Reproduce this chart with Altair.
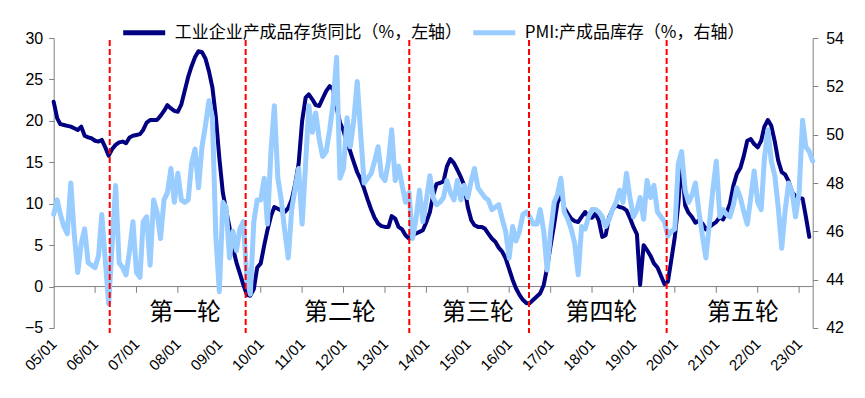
import altair as alt
import pandas as pd

dark_name = "工业企业产成品存货同比（%，左轴）"
light_name = "PMI:产成品库存（%，右轴）"

start_month = "2005-01-01"

inventory_yoy = [
    22.3, 20.3, 19.6, 19.5, 19.4, 19.3, 19.1, 18.9, 19.3, 18.2, 18.0, 17.9,  # 2005
    17.6, 17.5, 17.7, 16.8, 15.8, 16.6, 17.1, 17.4, 17.5, 17.3, 18.0, 18.2,  # 2006
    18.3, 18.4, 18.9, 19.8, 20.1, 20.1, 20.1, 20.6, 21.2, 21.9, 21.5, 21.2,  # 2007
    21.1, 22.0, 23.6, 25.3, 26.6, 27.7, 28.4, 28.3, 27.5, 26.0, 24.0, 20.5,  # 2008
    15.5, 11.3, 9.3, 7.1, 4.6, 2.9, 1.6, 0.2, -1.0, -1.1, -0.3, 2.3,         # 2009
    2.8, 5.0, 6.8, 8.5, 9.6, 9.4, 9.2, 9.0, 9.5, 10.5, 12.4, 14.8,           # 2010
    20.0, 22.8, 23.2, 22.6, 21.9, 21.8, 22.7, 23.6, 24.2, 23.8, 21.6, 19.8,  # 2011
    18.8, 17.3, 16.3, 15.0, 13.8, 12.9, 11.8, 10.5, 9.3, 8.3, 7.6, 7.3,      # 2012
    7.2, 7.2, 8.5, 8.2, 7.2, 6.9, 6.2, 5.8, 6.2, 6.4, 6.6, 6.8,              # 2013
    7.8, 9.0, 11.0, 12.4, 12.5, 12.7, 14.5, 15.4, 14.9, 14.1, 13.2, 12.2,    # 2014
    9.6, 8.0, 7.4, 7.2, 7.2, 7.0, 6.4, 5.8, 5.4, 4.7, 4.2, 3.4,              # 2015
    2.1, 0.8, -0.2, -1.0, -1.6, -2.0, -2.0, -1.6, -1.2, -0.8, 0.2, 2.3,      # 2016
    5.0, 7.5, 10.0, 11.4, 9.5, 8.8, 8.2, 7.9, 7.8, 8.4, 9.0, 8.4,            # 2017
    8.3, 8.8, 8.0, 6.0, 6.2, 8.4, 9.3, 9.8, 9.6, 9.5, 9.2, 8.3,              # 2018
    7.2, 6.3, 0.2, 5.0, 4.4, 3.7, 2.8, 2.3, 1.3, 0.3, 0.6, 3.2,              # 2019
    6.0, 10.0, 15.2, 9.8, 8.9, 8.4, 7.7, 8.0, 7.6, 6.9, 7.2, 7.5,            # 2020
    7.8, 8.4, 8.1, 8.9, 10.0, 12.2, 13.6, 14.3, 15.8, 17.6, 17.8, 17.2,      # 2021
    16.8, 17.6, 19.3, 20.1, 19.4, 17.5, 15.2, 13.8, 13.5, 12.7, 11.4, 10.9,  # 2022
    10.7, 10.6, 8.5, 6.0,                                                    # 2023
]

pmi_inventory = [
    46.7, 47.3, 46.7, 46.2, 45.9, 48.0, 45.9, 44.3, 45.5, 46.1, 44.7, 44.6,  # 2005
    44.5, 45.0, 46.7, 44.8, 43.0, 45.5, 47.9, 44.7, 44.5, 44.2, 45.2, 46.4,  # 2006
    44.3, 44.1, 46.4, 46.6, 44.6, 47.3, 46.8, 45.7, 47.3, 47.6, 48.6, 47.2,  # 2007
    48.4, 47.3, 47.2, 47.3, 48.8, 49.4, 47.8, 49.5, 50.4, 51.4, 50.7, 45.8,  # 2008
    43.5, 47.2, 47.0, 44.9, 46.0, 45.2, 46.1, 46.4, 44.0, 43.4, 46.4, 47.3,  # 2009
    47.3, 48.2, 46.3, 49.3, 51.2, 48.2, 47.3, 46.0, 44.9, 46.9, 47.8, 48.6,  # 2010
    46.3, 48.8, 51.2, 50.1, 50.9, 49.8, 49.1, 49.3, 50.2, 51.3, 53.2, 48.2,  # 2011
    48.6, 50.7, 49.5, 50.6, 52.2, 50.0, 48.0, 48.2, 48.4, 48.9, 49.5, 48.3,  # 2012
    48.1, 48.9, 50.2, 48.1, 48.7, 47.9, 47.2, 47.6, 45.7, 46.5, 47.7, 46.4,  # 2013
    47.3, 48.3, 47.4, 47.1, 47.2, 47.4, 48.1, 47.6, 47.3, 48.1, 47.3, 47.9,  # 2014
    47.4, 48.1, 48.6, 47.8, 47.6, 47.4, 47.3, 46.9, 47.0, 47.1, 46.5, 46.0,  # 2015
    44.9, 46.2, 45.6, 46.0, 46.7, 46.8, 46.6, 46.3, 46.3, 46.9, 46.0, 44.4,  # 2016
    46.0, 47.2, 47.5, 48.2, 46.8, 46.5, 46.1, 45.5, 44.2, 46.2, 46.1, 46.6,  # 2017
    46.9, 46.9, 46.8, 46.6, 46.2, 46.5, 46.9, 47.2, 47.7, 47.2, 48.4, 47.4,  # 2018
    46.6, 46.9, 47.4, 46.5, 48.1, 47.4, 47.9, 46.8, 46.6, 46.4, 45.8, 46.0,  # 2019
    46.1, 48.8, 49.3, 47.7, 47.2, 47.5, 48.0, 46.8, 45.8, 44.9, 46.3, 47.7,  # 2020
    48.9, 46.6, 46.9, 46.7, 46.6, 47.1, 47.8, 47.4, 46.8, 46.3, 47.4, 48.5,  # 2021
    47.2, 46.9, 49.0, 50.2, 48.9, 48.3, 47.0, 45.3, 46.9, 48.0, 47.6, 46.6,  # 2022
    47.6, 50.6, 49.5, 49.3, 48.9,                                            # 2023
]

round_dates = ["2006-05-10", "2009-08-21", "2013-08-03", "2016-06-24", "2019-10-21"]
round_labels = ["第一轮", "第二轮", "第三轮", "第四轮", "第五轮"]
round_label_dates = ["2008-03-05", "2011-12-01", "2015-04-01", "2018-03-25", "2021-08-25"]
round_label_value = -3.2

left_ticks = [-5, 0, 5, 10, 15, 20, 25, 30]
right_ticks = [42, 44, 46, 48, 50, 52, 54]
year_ticks = list(range(2005, 2024))
zero_level = [0]
zero_tick_depth = -0.75

dark_df = pd.DataFrame({
    "date": pd.date_range(start_month, periods=len(inventory_yoy), freq="MS").strftime("%Y-%m-%d"),
    "value": inventory_yoy,
    "series": dark_name,
})
light_df = pd.DataFrame({
    "date": pd.date_range(start_month, periods=len(pmi_inventory), freq="MS").strftime("%Y-%m-%d"),
    "value": pmi_inventory,
    "series": light_name,
})
rounds_df = pd.DataFrame({"date": round_dates})
labels_df = pd.DataFrame({
    "date": round_label_dates,
    "label": round_labels,
    "y": [round_label_value] * len(round_labels),
})
zero_df = pd.DataFrame({"v": zero_level})
year_df = pd.DataFrame({
    "date": [f"{y}-01-01" for y in year_ticks[1:]],
    "y0": [zero_level[0]] * (len(year_ticks) - 1),
    "y1": [zero_tick_depth] * (len(year_ticks) - 1),
})

W, H = 759, 290
AXIS_GREY = "#808080"

tick_vals = [alt.DateTime(year=y, month=1, date=1, utc=True) for y in year_ticks]
x_scale = alt.Scale(
    type="utc",
    domain=[alt.DateTime(year=2005, month=1, date=1, utc=True),
            alt.DateTime(year=2023, month=5, date=1, utc=True)],
)
left_scale = alt.Scale(domain=[-5, 30], nice=False, zero=False)
right_scale = alt.Scale(domain=[42, 54], nice=False, zero=False)
color_scale = alt.Scale(domain=[dark_name, light_name], range=["#000080", "#99CCFF"])

legend = alt.Legend(
    orient="none", legendX=67, legendY=-29, direction="horizontal", title=None,
    symbolType="stroke", symbolSize=1764, symbolStrokeWidth=5,
    labelFont="Noto Sans CJK SC", labelFontSize=17, labelLimit=0, labelColor="black",
    labelOffset=7, columnPadding=0,
)

zero_line = alt.Chart(zero_df).mark_rule(color=AXIS_GREY, strokeWidth=1).encode(
    y=alt.Y("v:Q", scale=left_scale, axis=None),
)

zero_ticks = alt.Chart(year_df).mark_rule(color=AXIS_GREY, strokeWidth=1).encode(
    x=alt.X("date:T", scale=x_scale, axis=None),
    y=alt.Y("y0:Q", scale=left_scale, axis=None),
    y2="y1:Q",
)

dark = alt.Chart(dark_df).mark_line(strokeWidth=4, strokeJoin="round", strokeCap="round").encode(
    x=alt.X("date:T", scale=x_scale, axis=None),
    y=alt.Y("value:Q", scale=left_scale, axis=alt.Axis(
        orient="left", values=left_ticks, tickSize=5, labelPadding=6, labelFontSize=16,
        grid=False, title=None, domainColor=AXIS_GREY, tickColor=AXIS_GREY,
        labelFont="Liberation Sans", labelColor="black")),
    color=alt.Color("series:N", scale=color_scale, legend=legend),
)

light = alt.Chart(light_df).mark_line(strokeWidth=5, strokeJoin="round", strokeCap="round").encode(
    x=alt.X("date:T", scale=x_scale, axis=alt.Axis(
        orient="bottom", values=tick_vals, format="%y/%m", labelAngle=315, labelAlign="right",
        labelBaseline="middle", labelFontSize=15, labelPadding=13, labelFlush=False,
        labelOverlap=False, domain=False, ticks=False, tickSize=0, grid=False, title=None,
        labelFont="Liberation Sans", labelColor="black")),
    y=alt.Y("value:Q", scale=right_scale, axis=alt.Axis(
        orient="right", values=right_ticks, tickSize=5, labelPadding=8, labelFontSize=16,
        grid=False, title=None, domainColor=AXIS_GREY, tickColor=AXIS_GREY,
        labelFont="Liberation Sans", labelColor="black")),
    color=alt.Color("series:N", scale=color_scale, legend=legend),
)

reds = alt.Chart(rounds_df).mark_rule(color="#FF0000", strokeWidth=2, strokeDash=[6, 3]).encode(
    x=alt.X("date:T", scale=x_scale, axis=None),
    y=alt.value(2),
    y2=alt.value(H + 5),
)

texts = alt.Chart(labels_df).mark_text(
    font="Noto Sans CJK SC", fontSize=24, color="black", align="center", baseline="middle"
).encode(
    x=alt.X("date:T", scale=x_scale, axis=None),
    y=alt.Y("y:Q", scale=left_scale, axis=None),
    text="label:N",
)

chart = alt.layer(zero_line, zero_ticks, dark, light, reds, texts).resolve_scale(
    x="shared", y="independent", color="shared"
).resolve_axis(x="independent").properties(
    width=W, height=H,
    autosize=alt.AutoSizeParams(type="none"),
    padding={"left": 45.7, "top": 30, "right": 40, "bottom": 55},
    background="white",
).configure_view(stroke=None)

chart.save("out.html", embed_options={"renderer": "svg", "actions": False})
